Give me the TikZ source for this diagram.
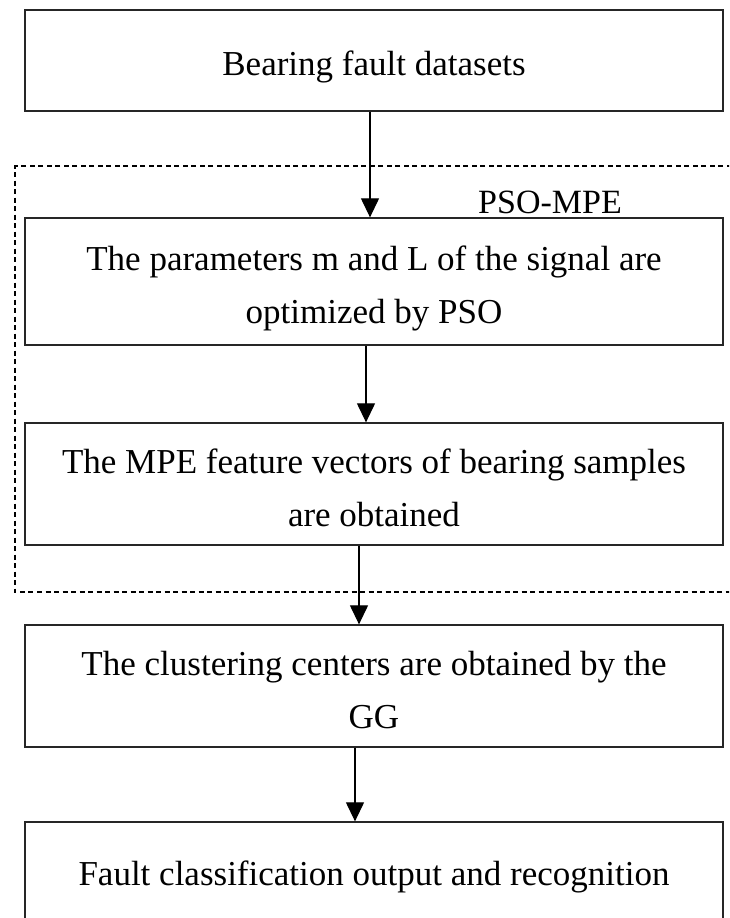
\documentclass[tikz,border=0pt]{standalone}
\usepackage{fontspec}
\setmainfont{Liberation Serif}
\usetikzlibrary{arrows.meta}
\begin{document}
\begin{tikzpicture}[x=1pt,y=-1pt,
  box/.style={draw=black!85, line width=1.3pt, rectangle, minimum width=698pt, inner sep=0pt, align=center,
    font=\fontsize{35}{53}\selectfont},
  two/.style={text height=86pt, text depth=2pt},
  arr/.style={draw=black, line width=1.2pt, -{Triangle[length=19pt,width=18pt]}},
  group/.style={draw=black, line width=1.2pt, dash pattern=on 5pt off 3.5pt},
  lbl/.style={font=\fontsize{34}{40}\selectfont, inner sep=0pt}]
\clip (0,0) rectangle (729,918);
\fill[white] (0,0) rectangle (729,918);
\draw[group] (740,166) -- (15,166) -- (15,592) -- (740,592);
\node[box, minimum height=101pt, text height=30pt, text depth=1pt] (b1) at (374,60.5) {Bearing fault datasets};
\node[box, two, minimum height=127pt] (b2) at (374,281.5) {The parameters m and L of the signal are\\ optimized by PSO};
\node[box, two, minimum height=122pt] (b3) at (374,484) {The MPE feature vectors of bearing samples\\ are obtained};
\node[box, two, minimum height=122pt] (b4) at (374,686) {The clustering centers are obtained by the\\ GG};
\node[box, minimum height=120pt, text height=22pt, text depth=16pt] (b5) at (374,882) {Fault classification output and recognition};
\node[lbl, anchor=base] (pso) at (550,213) {PSO-MPE};
\coordinate (x1) at (370,0);
\coordinate (x2) at (366,0);
\coordinate (x3) at (359,0);
\coordinate (x4) at (355,0);
\draw[arr] (b1.south -| x1) -- (b2.north -| x1);
\draw[arr] (b2.south -| x2) -- (b3.north -| x2);
\draw[arr] (b3.south -| x3) -- (b4.north -| x3);
\draw[arr] (b4.south -| x4) -- (b5.north -| x4);
\end{tikzpicture}
\end{document}
